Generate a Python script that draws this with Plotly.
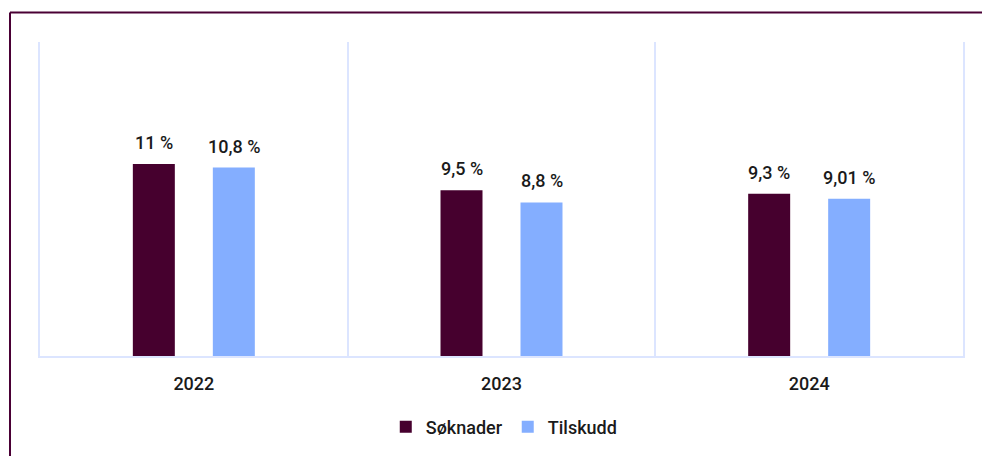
import plotly.graph_objects as go

years = ["2022", "2023", "2024"]
soknader = [11.0, 9.5, 9.3]
tilskudd = [10.8, 8.8, 9.01]
soknader_labels = ["11 %", "9,5 %", "9,3 %"]
tilskudd_labels = ["10,8 %", "8,8 %", "9,01 %"]

C_SOK = "#46002E"
C_TIL = "#84AEFF"
GRID = "#DCE5FF"
TXT = "#1A1A1A"
FONT = "Roboto"
WEIGHT = 500

fig = go.Figure()
fig.add_trace(go.Bar(name="Søknader", x=years, y=soknader, marker=dict(color=C_SOK, line=dict(width=0))))
fig.add_trace(go.Bar(name="Tilskudd", x=years, y=tilskudd, marker=dict(color=C_TIL, line=dict(width=0))))

lab_font = dict(family=FONT, size=18, color=TXT, weight=WEIGHT)
annotations = []
for i, (v, lab) in enumerate(zip(soknader, soknader_labels)):
    annotations.append(dict(x=i, y=v, text=lab, xshift=-40, yshift=9, yanchor="bottom",
                            showarrow=False, font=lab_font))
for i, (v, lab) in enumerate(zip(tilskudd, tilskudd_labels)):
    annotations.append(dict(x=i, y=v, text=lab, xshift=40, yshift=9, yanchor="bottom",
                            showarrow=False, font=lab_font))

W, H = 982, 456
L, R, T, B = 40, 19, 42, 99
pw, ph = W - L - R, H - T - B

def px_x(p):
    return (p - L) / pw

def px_y(p):
    return (H - B - p) / ph

shapes = [
    dict(type="line", xref="paper", yref="paper", x0=px_x(10), x1=px_x(1000), y0=px_y(12.5), y1=px_y(12.5),
         line=dict(color="#4A0035", width=2)),
    dict(type="line", xref="paper", yref="paper", x0=px_x(10), x1=px_x(10), y0=px_y(12.5), y1=px_y(470),
         line=dict(color="#4A0035", width=2)),
]

fig.update_layout(
    width=W, height=H,
    margin=dict(l=L, r=R, t=T, b=B, pad=0),
    paper_bgcolor="white", plot_bgcolor="white",
    barmode="group", bargap=0.48, bargroupgap=0.475,
    font=dict(family=FONT, size=18, color=TXT, weight=WEIGHT),
    showlegend=True,
    legend=dict(orientation="h", x=0.503, xanchor="center", y=px_y(427), yanchor="middle",
                font=dict(family=FONT, size=18, color=TXT, weight=WEIGHT), itemclick=False,
                traceorder="normal", itemwidth=30),
    annotations=annotations,
    shapes=shapes,
    xaxis=dict(type="category", range=[-0.5, len(years) - 0.5], showgrid=True, gridcolor=GRID, gridwidth=2,
               tickson="boundaries", ticks="",
               showline=True, linecolor=GRID, linewidth=2, ticklabelstandoff=10,
               tickfont=dict(family=FONT, size=18, color=TXT, weight=WEIGHT), fixedrange=True),
    yaxis=dict(range=[0, 18], showgrid=False, showticklabels=False, zeroline=False, ticks="",
               showline=True, mirror=True, linecolor=GRID, linewidth=2, fixedrange=True),
)

fig.write_html("out.html", config={"displayModeBar": False},
               post_script="document.body.style.margin='0';")
